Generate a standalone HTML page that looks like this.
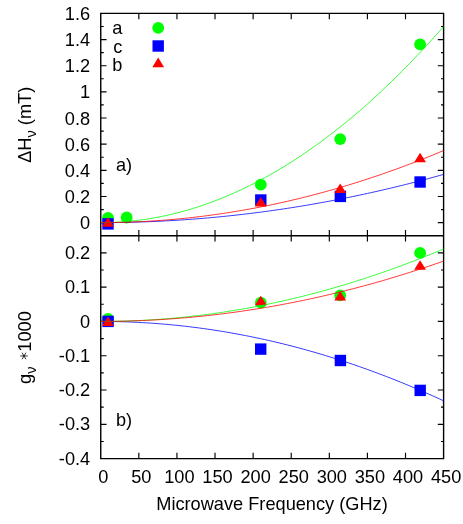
<!DOCTYPE html>
<html><head><meta charset="utf-8"><title>plot</title>
<style>
html,body{margin:0;padding:0;background:#fff;}
svg{display:block;will-change:transform;}
text{font-family:"Liberation Sans",sans-serif;fill:#000;}
</style></head><body>
<svg width="463" height="524" viewBox="0 0 463 524">
<rect width="463" height="524" fill="#fff"/>
<path d="M100.75,13.4H443.6V458.6H100.75Z M100.75,235.7H443.6" fill="none" stroke="#000" stroke-width="1.4"/>
<path d="M138.84,13.4v5.8 M138.84,229.90v11.60 M138.84,458.6v-5.8 M176.94,13.4v5.8 M176.94,229.90v11.60 M176.94,458.6v-5.8 M215.03,13.4v5.8 M215.03,229.90v11.60 M215.03,458.6v-5.8 M253.13,13.4v5.8 M253.13,229.90v11.60 M253.13,458.6v-5.8 M291.22,13.4v5.8 M291.22,229.90v11.60 M291.22,458.6v-5.8 M329.32,13.4v5.8 M329.32,229.90v11.60 M329.32,458.6v-5.8 M367.41,13.4v5.8 M367.41,229.90v11.60 M367.41,458.6v-5.8 M405.51,13.4v5.8 M405.51,229.90v11.60 M405.51,458.6v-5.8 M100.75,222.62h5.8 M443.6,222.62h-5.80 M100.75,209.55h3 M443.6,209.55h-2.60 M100.75,196.47h5.8 M443.6,196.47h-5.80 M100.75,183.39h3 M443.6,183.39h-2.60 M100.75,170.32h5.8 M443.6,170.32h-5.80 M100.75,157.24h3 M443.6,157.24h-2.60 M100.75,144.16h5.8 M443.6,144.16h-5.80 M100.75,131.09h3 M443.6,131.09h-2.60 M100.75,118.01h5.8 M443.6,118.01h-5.80 M100.75,104.94h3 M443.6,104.94h-2.60 M100.75,91.86h5.8 M443.6,91.86h-5.80 M100.75,78.78h3 M443.6,78.78h-2.60 M100.75,65.71h5.8 M443.6,65.71h-5.80 M100.75,52.63h3 M443.6,52.63h-2.60 M100.75,39.55h5.8 M443.6,39.55h-5.80 M100.75,26.48h3 M443.6,26.48h-2.60 M100.75,441.45h3 M443.6,441.45h-2.60 M100.75,424.31h5.8 M443.6,424.31h-5.80 M100.75,407.16h3 M443.6,407.16h-2.60 M100.75,390.02h5.8 M443.6,390.02h-5.80 M100.75,372.87h3 M443.6,372.87h-2.60 M100.75,355.72h5.8 M443.6,355.72h-5.80 M100.75,338.58h3 M443.6,338.58h-2.60 M100.75,321.43h5.8 M443.6,321.43h-5.80 M100.75,304.28h3 M443.6,304.28h-2.60 M100.75,287.14h5.8 M443.6,287.14h-5.80 M100.75,269.99h3 M443.6,269.99h-2.60 M100.75,252.85h5.8 M443.6,252.85h-5.80" fill="none" stroke="#000" stroke-width="1.15"/>
<circle cx="108.00" cy="217.80" r="5.9" fill="#00ff00"/>
<circle cx="126.65" cy="217.50" r="5.9" fill="#00ff00"/>
<circle cx="260.80" cy="184.70" r="5.9" fill="#00ff00"/>
<circle cx="340.20" cy="139.10" r="5.9" fill="#00ff00"/>
<circle cx="420.10" cy="44.40" r="5.9" fill="#00ff00"/>
<circle cx="158.20" cy="27.80" r="5.9" fill="#00ff00"/>
<rect x="102.30" y="218.20" width="11.40" height="11.40" fill="#0000ff"/>
<rect x="255.10" y="194.30" width="11.40" height="11.40" fill="#0000ff"/>
<rect x="334.65" y="190.70" width="11.40" height="11.40" fill="#0000ff"/>
<rect x="414.40" y="176.30" width="11.40" height="11.40" fill="#0000ff"/>
<rect x="152.50" y="40.30" width="11.40" height="11.40" fill="#0000ff"/>
<polygon points="108.00,217.19 102.10,226.75 113.90,226.75" fill="#ff0000"/>
<polygon points="260.80,196.89 254.90,206.45 266.70,206.45" fill="#ff0000"/>
<polygon points="340.20,183.39 334.30,192.95 346.10,192.95" fill="#ff0000"/>
<polygon points="420.10,152.79 414.20,162.35 426.00,162.35" fill="#ff0000"/>
<polygon points="158.20,57.59 152.30,67.15 164.10,67.15" fill="#ff0000"/>
<circle cx="108.00" cy="319.00" r="5.9" fill="#00ff00"/>
<circle cx="260.80" cy="302.70" r="5.9" fill="#00ff00"/>
<circle cx="340.20" cy="295.40" r="5.9" fill="#00ff00"/>
<circle cx="420.10" cy="252.90" r="5.9" fill="#00ff00"/>
<rect x="102.40" y="315.70" width="11.40" height="11.40" fill="#0000ff"/>
<rect x="255.00" y="343.40" width="11.40" height="11.40" fill="#0000ff"/>
<rect x="334.70" y="354.80" width="11.40" height="11.40" fill="#0000ff"/>
<rect x="414.50" y="384.70" width="11.40" height="11.40" fill="#0000ff"/>
<polygon points="108.00,316.39 102.10,325.95 113.90,325.95" fill="#ff0000"/>
<polygon points="260.80,295.69 254.90,305.25 266.70,305.25" fill="#ff0000"/>
<polygon points="340.20,290.99 334.30,300.55 346.10,300.55" fill="#ff0000"/>
<polygon points="420.10,260.29 414.20,269.85 426.00,269.85" fill="#ff0000"/>
<polyline points="100.75,222.62 104.56,222.62 108.37,222.60 112.18,222.57 115.99,222.53 119.80,222.47 123.61,222.41 127.42,222.33 131.23,222.24 135.03,222.14 138.84,222.03 142.65,221.90 146.46,221.77 150.27,221.62 154.08,221.46 157.89,221.28 161.70,221.10 165.51,220.90 169.32,220.69 173.13,220.47 176.94,220.24 180.75,220.00 184.56,219.74 188.37,219.47 192.18,219.19 195.99,218.90 199.80,218.60 203.61,218.28 207.41,217.96 211.22,217.62 215.03,217.27 218.84,216.90 222.65,216.53 226.46,216.14 230.27,215.74 234.08,215.33 237.89,214.91 241.70,214.47 245.51,214.03 249.32,213.57 253.13,213.10 256.94,212.62 260.75,212.12 264.56,211.61 268.37,211.10 272.18,210.57 275.98,210.03 279.79,209.47 283.60,208.91 287.41,208.33 291.22,207.74 295.03,207.14 298.84,206.52 302.65,205.90 306.46,205.26 310.27,204.61 314.08,203.95 317.89,203.28 321.70,202.59 325.51,201.90 329.32,201.19 333.13,200.47 336.94,199.74 340.75,198.99 344.55,198.24 348.36,197.47 352.17,196.69 355.98,195.90 359.79,195.09 363.60,194.28 367.41,193.45 371.22,192.61 375.03,191.76 378.84,190.90 382.65,190.02 386.46,189.13 390.27,188.23 394.08,187.32 397.89,186.40 401.70,185.47 405.51,184.52 409.31,183.56 413.12,182.59 416.93,181.61 420.74,180.61 424.55,179.61 428.36,178.59 432.17,177.56 435.98,176.52 439.79,175.46 443.60,174.40" fill="none" stroke="#0000ff" stroke-width="0.78"/>
<polyline points="100.75,222.62 104.56,222.60 108.37,222.53 112.18,222.41 115.99,222.24 119.80,222.02 123.61,221.75 127.42,221.44 131.23,221.07 135.03,220.66 138.84,220.20 142.65,219.69 146.46,219.14 150.27,218.53 154.08,217.88 157.89,217.17 161.70,216.42 165.51,215.63 169.32,214.78 173.13,213.88 176.94,212.94 180.75,211.94 184.56,210.90 188.37,209.81 192.18,208.68 195.99,207.49 199.80,206.25 203.61,204.97 207.41,203.64 211.22,202.26 215.03,200.83 218.84,199.35 222.65,197.83 226.46,196.25 230.27,194.63 234.08,192.96 237.89,191.24 241.70,189.47 245.51,187.66 249.32,185.79 253.13,183.88 256.94,181.92 260.75,179.91 264.56,177.85 268.37,175.74 272.18,173.59 275.98,171.38 279.79,169.13 283.60,166.83 287.41,164.48 291.22,162.08 295.03,159.64 298.84,157.14 302.65,154.60 306.46,152.01 310.27,149.37 314.08,146.68 317.89,143.95 321.70,141.16 325.51,138.33 329.32,135.45 333.13,132.52 336.94,129.54 340.75,126.51 344.55,123.44 348.36,120.31 352.17,117.14 355.98,113.92 359.79,110.65 363.60,107.33 367.41,103.97 371.22,100.55 375.03,97.09 378.84,93.58 382.65,90.02 386.46,86.41 390.27,82.75 394.08,79.05 397.89,75.30 401.70,71.49 405.51,67.64 409.31,63.74 413.12,59.80 416.93,55.80 420.74,51.76 424.55,47.67 428.36,43.52 432.17,39.34 435.98,35.10 439.79,30.81 443.60,26.48" fill="none" stroke="#00ff00" stroke-width="0.78"/>
<polyline points="100.75,222.62 104.56,222.61 108.37,222.59 112.18,222.54 115.99,222.48 119.80,222.40 123.61,222.30 127.42,222.19 131.23,222.05 135.03,221.90 138.84,221.73 142.65,221.55 146.46,221.34 150.27,221.12 154.08,220.88 157.89,220.62 161.70,220.35 165.51,220.05 169.32,219.74 173.13,219.41 176.94,219.07 180.75,218.70 184.56,218.32 188.37,217.92 192.18,217.50 195.99,217.06 199.80,216.61 203.61,216.14 207.41,215.65 211.22,215.14 215.03,214.62 218.84,214.08 222.65,213.51 226.46,212.94 230.27,212.34 234.08,211.73 237.89,211.10 241.70,210.45 245.51,209.78 249.32,209.09 253.13,208.39 256.94,207.67 260.75,206.93 264.56,206.18 268.37,205.40 272.18,204.61 275.98,203.80 279.79,202.97 283.60,202.13 287.41,201.27 291.22,200.39 295.03,199.49 298.84,198.57 302.65,197.64 306.46,196.69 310.27,195.72 314.08,194.73 317.89,193.72 321.70,192.70 325.51,191.66 329.32,190.60 333.13,189.52 336.94,188.43 340.75,187.32 344.55,186.19 348.36,185.04 352.17,183.88 355.98,182.69 359.79,181.49 363.60,180.27 367.41,179.04 371.22,177.78 375.03,176.51 378.84,175.22 382.65,173.91 386.46,172.59 390.27,171.24 394.08,169.88 397.89,168.50 401.70,167.11 405.51,165.69 409.31,164.26 413.12,162.81 416.93,161.34 420.74,159.86 424.55,158.36 428.36,156.83 432.17,155.30 435.98,153.74 439.79,152.16 443.60,150.57" fill="none" stroke="#ff0000" stroke-width="0.78"/>
<polyline points="100.75,321.43 104.56,321.44 108.37,321.47 112.18,321.52 115.99,321.59 119.80,321.68 123.61,321.78 127.42,321.91 131.23,322.06 135.03,322.22 138.84,322.41 142.65,322.62 146.46,322.84 150.27,323.09 154.08,323.35 157.89,323.64 161.70,323.94 165.51,324.26 169.32,324.61 173.13,324.97 176.94,325.35 180.75,325.75 184.56,326.17 188.37,326.62 192.18,327.08 195.99,327.56 199.80,328.06 203.61,328.58 207.41,329.11 211.22,329.67 215.03,330.25 218.84,330.85 222.65,331.47 226.46,332.10 230.27,332.76 234.08,333.44 237.89,334.13 241.70,334.85 245.51,335.58 249.32,336.34 253.13,337.11 256.94,337.91 260.75,338.72 264.56,339.55 268.37,340.41 272.18,341.28 275.98,342.17 279.79,343.08 283.60,344.01 287.41,344.96 291.22,345.93 295.03,346.92 298.84,347.93 302.65,348.96 306.46,350.01 310.27,351.08 314.08,352.17 317.89,353.27 321.70,354.40 325.51,355.55 329.32,356.71 333.13,357.90 336.94,359.11 340.75,360.33 344.55,361.57 348.36,362.84 352.17,364.12 355.98,365.43 359.79,366.75 363.60,368.09 367.41,369.45 371.22,370.84 375.03,372.24 378.84,373.66 382.65,375.10 386.46,376.56 390.27,378.04 394.08,379.54 397.89,381.06 401.70,382.60 405.51,384.16 409.31,385.73 413.12,387.33 416.93,388.95 420.74,390.59 424.55,392.24 428.36,393.92 432.17,395.61 435.98,397.33 439.79,399.06 443.60,400.82" fill="none" stroke="#0000ff" stroke-width="0.78"/>
<polyline points="100.75,321.43 104.56,321.42 108.37,321.39 112.18,321.35 115.99,321.29 119.80,321.21 123.61,321.11 127.42,320.99 131.23,320.86 135.03,320.71 138.84,320.54 142.65,320.35 146.46,320.14 150.27,319.92 154.08,319.68 157.89,319.42 161.70,319.14 165.51,318.84 169.32,318.53 173.13,318.20 176.94,317.85 180.75,317.48 184.56,317.10 188.37,316.69 192.18,316.27 195.99,315.83 199.80,315.38 203.61,314.90 207.41,314.41 211.22,313.90 215.03,313.37 218.84,312.83 222.65,312.26 226.46,311.68 230.27,311.08 234.08,310.46 237.89,309.83 241.70,309.17 245.51,308.50 249.32,307.81 253.13,307.10 256.94,306.38 260.75,305.64 264.56,304.87 268.37,304.10 272.18,303.30 275.98,302.48 279.79,301.65 283.60,300.80 287.41,299.93 291.22,299.05 295.03,298.14 298.84,297.22 302.65,296.28 306.46,295.32 310.27,294.34 314.08,293.35 317.89,292.34 321.70,291.31 325.51,290.26 329.32,289.20 333.13,288.11 336.94,287.01 340.75,285.89 344.55,284.75 348.36,283.60 352.17,282.43 355.98,281.24 359.79,280.03 363.60,278.80 367.41,277.56 371.22,276.29 375.03,275.01 378.84,273.71 382.65,272.40 386.46,271.06 390.27,269.71 394.08,268.34 397.89,266.95 401.70,265.55 405.51,264.12 409.31,262.68 413.12,261.22 416.93,259.75 420.74,258.25 424.55,256.74 428.36,255.21 432.17,253.66 435.98,252.09 439.79,250.51 443.60,248.90" fill="none" stroke="#00ff00" stroke-width="0.78"/>
<polyline points="100.75,321.43 104.56,321.42 108.37,321.40 112.18,321.36 115.99,321.31 119.80,321.24 123.61,321.16 127.42,321.07 131.23,320.95 135.03,320.83 138.84,320.69 142.65,320.53 146.46,320.36 150.27,320.17 154.08,319.97 157.89,319.75 161.70,319.52 165.51,319.28 169.32,319.02 173.13,318.74 176.94,318.45 180.75,318.14 184.56,317.82 188.37,317.49 192.18,317.14 195.99,316.77 199.80,316.39 203.61,316.00 207.41,315.59 211.22,315.16 215.03,314.72 218.84,314.27 222.65,313.80 226.46,313.32 230.27,312.82 234.08,312.30 237.89,311.77 241.70,311.23 245.51,310.67 249.32,310.10 253.13,309.51 256.94,308.91 260.75,308.29 264.56,307.65 268.37,307.01 272.18,306.34 275.98,305.66 279.79,304.97 283.60,304.26 287.41,303.54 291.22,302.80 295.03,302.05 298.84,301.28 302.65,300.50 306.46,299.70 310.27,298.89 314.08,298.06 317.89,297.22 321.70,296.37 325.51,295.49 329.32,294.61 333.13,293.70 336.94,292.79 340.75,291.86 344.55,290.91 348.36,289.95 352.17,288.97 355.98,287.98 359.79,286.98 363.60,285.96 367.41,284.92 371.22,283.87 375.03,282.80 378.84,281.72 382.65,280.63 386.46,279.52 390.27,278.39 394.08,277.25 397.89,276.10 401.70,274.93 405.51,273.74 409.31,272.54 413.12,271.33 416.93,270.10 420.74,268.86 424.55,267.60 428.36,266.32 432.17,265.03 435.98,263.73 439.79,262.41 443.60,261.08" fill="none" stroke="#ff0000" stroke-width="0.78"/>
<g font-size="18.2" text-anchor="end">
<text x="90.1" y="20.00">1.6</text>
<text x="90.1" y="46.15">1.4</text>
<text x="90.1" y="72.31">1.2</text>
<text x="90.1" y="98.46">1</text>
<text x="90.1" y="124.61">0.8</text>
<text x="90.1" y="150.76">0.6</text>
<text x="90.1" y="176.92">0.4</text>
<text x="90.1" y="203.07">0.2</text>
<text x="90.1" y="229.22">0</text>
<text x="90.2" y="259.00">0.2</text>
<text x="90.2" y="293.29">0.1</text>
<text x="90.2" y="327.58">0</text>
<text x="90.2" y="361.87">-0.1</text>
<text x="90.2" y="396.17">-0.2</text>
<text x="90.2" y="430.46">-0.3</text>
<text x="90.2" y="464.75">-0.4</text>
</g>
<g font-size="18.2" text-anchor="middle">
<text x="103.25" y="483.2">0</text>
<text x="141.34" y="483.2">50</text>
<text x="179.44" y="483.2">100</text>
<text x="217.53" y="483.2">150</text>
<text x="255.63" y="483.2">200</text>
<text x="293.72" y="483.2">250</text>
<text x="331.82" y="483.2">300</text>
<text x="369.91" y="483.2">350</text>
<text x="408.01" y="483.2">400</text>
<text x="446.10" y="483.2">450</text>
</g>
<text x="272" y="510.2" font-size="18.2" text-anchor="middle">Microwave Frequency (GHz)</text>
<g font-size="18.2" text-anchor="end"><text x="122.4" y="34.0">a</text><text x="122.4" y="52.9">c</text><text x="122.4" y="70.9">b</text></g>
<g font-size="18.2"><text x="116" y="170.6">a)</text><text x="116" y="425.8">b)</text></g>
<text transform="translate(30.6,124.8) rotate(-90)" font-size="18.2" text-anchor="middle">ΔH<tspan font-size="14.56" dy="5">ν</tspan><tspan dy="-5"> (mT)</tspan></text>
<g transform="translate(30.7,347.2) rotate(-90)">
<text x="-36.7" y="0" font-size="18.2">g<tspan font-size="14.56" dy="5">ν</tspan><tspan dy="-5" dx="14.8">1000</tspan></text>
<path d="M-8.75,-10.50L-8.75,-2.90 M-12.04,-8.60L-5.46,-4.80 M-5.46,-8.60L-12.04,-4.80" stroke="#000" stroke-width="0.8" fill="none"/>
</g>
</svg></body></html>
